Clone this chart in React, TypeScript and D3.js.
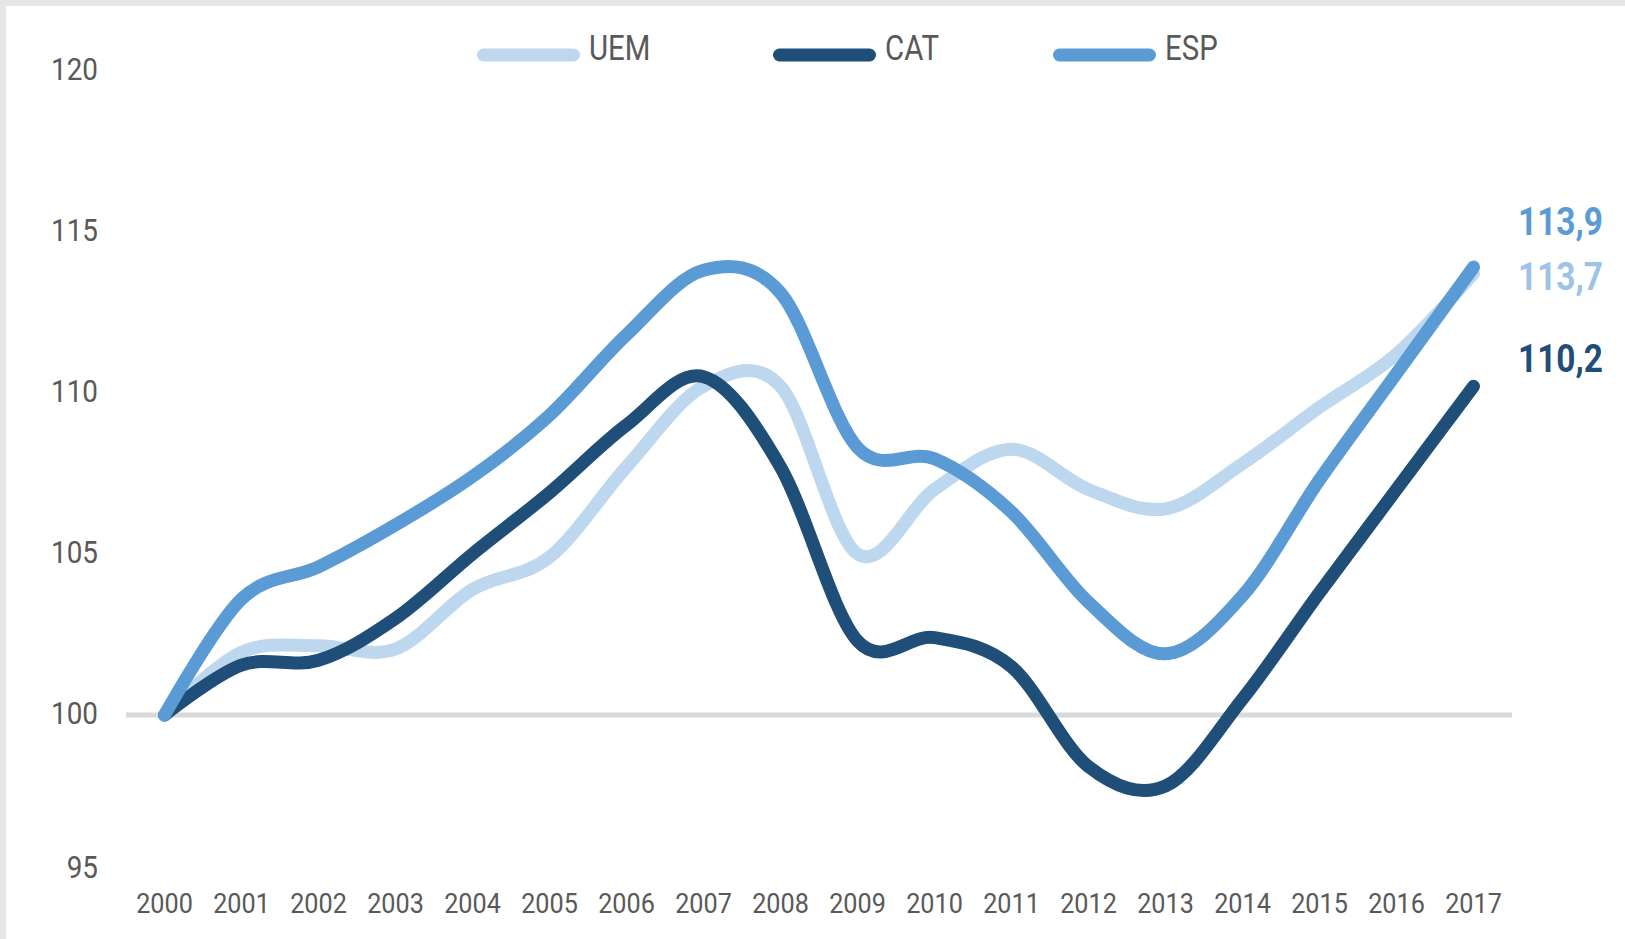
import React from 'react';
import * as d3 from 'd3';

const years = ['2000','2001','2002','2003','2004','2005','2006','2007','2008','2009','2010','2011','2012','2013','2014','2015','2016','2017'];
const uem = [100, 101.95, 102.15, 102.05, 103.9, 104.9, 107.7, 110.2, 110.2, 105.0, 107.0, 108.25, 107.0, 106.4, 107.8, 109.55, 111.2, 113.7];
const cat = [100, 101.55, 101.7, 103.0, 105.0, 106.9, 109.0, 110.5, 107.7, 102.3, 102.4, 101.5, 98.4, 97.8, 100.5, 103.8, 107.0, 110.2];
const esp = [100, 103.6, 104.6, 105.9, 107.4, 109.3, 111.8, 113.8, 113.1, 108.3, 107.95, 106.3, 103.5, 101.9, 103.7, 107.3, 110.6, 113.9];
const yTicks = [95, 100, 105, 110, 115, 120];
const seriesNames = ['UEM', 'CAT', 'ESP'];
const endLabels = ['113,7', '110,2', '113,9'];

const colors = ['#bdd7ee', '#1f4e79', '#5b9bd5'];
const labelColors = ['#9dc3e6', '#1f4e79', '#5b9bd5'];
const labelDy = [16.6, -14, -32];
const legendX = [477, 773, 1053];

export default function App() {
  const W = 1625, H = 939;
  const xb = d3.scaleBand<string>().domain(years).range([126, 1512]);
  const cx = (i: number) => (xb(years[i]) as number) + xb.bandwidth() / 2;
  const y = d3.scaleLinear().domain([95, 120]).range([876.2, 70.5]);
  const line = d3.line<number>().x((_, i) => cx(i)).y(d => y(d)).curve(d3.curveCardinal.tension(0));
  const series = [uem, cat, esp];
  const textColor = '#595959';
  const font = 'Roboto, "DejaVu Sans", sans-serif';

  return (
    <svg width={W} height={H} style={{ position: 'absolute', left: 0, top: 0, background: '#fff' }}>
      <rect x={0} y={0} width={W} height={6} fill="#e6e5e3" />
      <rect x={0} y={0} width={6} height={H} fill="#e6e5e3" />
      <line x1={126} x2={1512} y1={y(100)} y2={y(100)} stroke="#d9d9d9" strokeWidth={5} />
      {yTicks.map(t => (
        <text key={t} transform={`translate(98,${Math.min(y(t) + 9, 878)}) scale(0.87,1)`} textAnchor="end"
          fontFamily={font} fontSize={32} fill={textColor}>{t}</text>
      ))}
      {years.map((yr, i) => (
        <text key={yr} transform={`translate(${cx(i)},913) scale(0.9,1)`} textAnchor="middle"
          fontFamily={font} fontSize={28} fill={textColor}>{yr}</text>
      ))}
      {series.map((s, k) => (
        <path key={k} d={line(s) || ''} fill="none" stroke={colors[k]} strokeWidth={13}
          strokeLinecap="round" strokeLinejoin="round" />
      ))}
      {series.map((s, k) => (
        <text key={'l' + k} transform={`translate(1518,${y(s[s.length - 1]) + labelDy[k]}) scale(0.88,1)`}
          fontFamily={font} fontSize={38} fontWeight="bold" fill={labelColors[k]}>{endLabels[k]}</text>
      ))}
      {seriesNames.map((n, k) => (
        <g key={n}>
          <line x1={legendX[k] + 6.5} x2={legendX[k] + 103 - 6.5} y1={55} y2={55} stroke={colors[k]}
            strokeWidth={13} strokeLinecap="round" />
          <text transform={`translate(${legendX[k] + 112},60) scale(0.84,1)`} fontFamily={font}
            fontSize={35} fill={textColor}>{n}</text>
        </g>
      ))}
    </svg>
  );
}
